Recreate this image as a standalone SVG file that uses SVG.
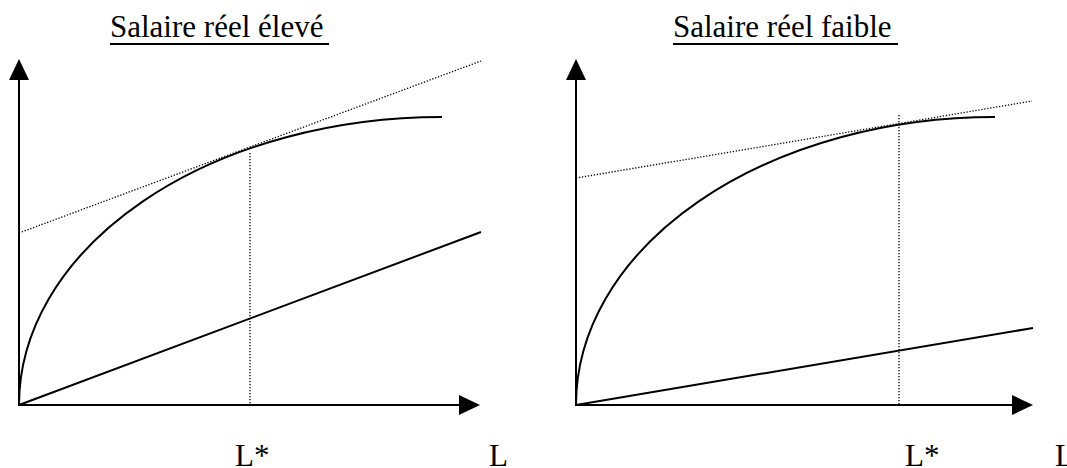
<svg xmlns="http://www.w3.org/2000/svg" width="1067" height="468" viewBox="0 0 1067 468">
<style>
.ax{stroke:#000;stroke-width:2;fill:none}
.cv{stroke:#000;stroke-width:2;fill:none}
.dt{stroke:#000;stroke-width:1.3;fill:none;stroke-dasharray:1.3 1.7}
.t{font-size:31px;fill:#000}
.ul{stroke:#000;stroke-width:2}
</style>
<defs>
<marker id="arr" viewBox="0 0 21 20" refX="11" refY="10" markerWidth="21" markerHeight="20" markerUnits="userSpaceOnUse" orient="auto">
<path d="M0,0 L21,10 L0,20 z" fill="#000"/>
</marker>
</defs>
<g id="panel-left" font-family="'Liberation Serif', 'DejaVu Serif', serif">
<text class="t" x="110" y="37">Salaire réel élevé</text>
<line class="ul" x1="110" y1="44" x2="329" y2="44"/>
<text class="t" x="235" y="466">L*</text>
<text class="t" x="489" y="466">L</text>
</g>
<g id="panel-right" font-family="'Liberation Serif', 'DejaVu Serif', serif">
<text class="t" x="673" y="37">Salaire réel faible</text>
<line class="ul" x1="673" y1="44" x2="898" y2="44"/>
<text class="t" x="905" y="466">L*</text>
<text class="t" x="1055" y="466">L</text>
</g>
<g id="connectors">
<line class="ax" x1="19" y1="405" x2="19" y2="69" marker-end="url(#arr)"/>
<line class="ax" x1="18" y1="405" x2="470" y2="405" marker-end="url(#arr)"/>
<path class="cv" d="M19,405 A423,288 0 0,1 442,117"/>
<line class="cv" x1="19" y1="405" x2="481" y2="232"/>
<line class="dt" x1="19" y1="233" x2="481" y2="61"/>
<line class="dt" x1="250" y1="153" x2="250" y2="405"/>
<line class="ax" x1="576" y1="405" x2="576" y2="69" marker-end="url(#arr)"/>
<line class="ax" x1="575" y1="405" x2="1023" y2="405" marker-end="url(#arr)"/>
<path class="cv" d="M576,405 A419,288 0 0,1 995,117"/>
<line class="cv" x1="576" y1="405" x2="1033" y2="328"/>
<line class="dt" x1="576" y1="178" x2="1032" y2="101"/>
<line class="dt" x1="899" y1="115" x2="899" y2="405"/>
</g>
</svg>
